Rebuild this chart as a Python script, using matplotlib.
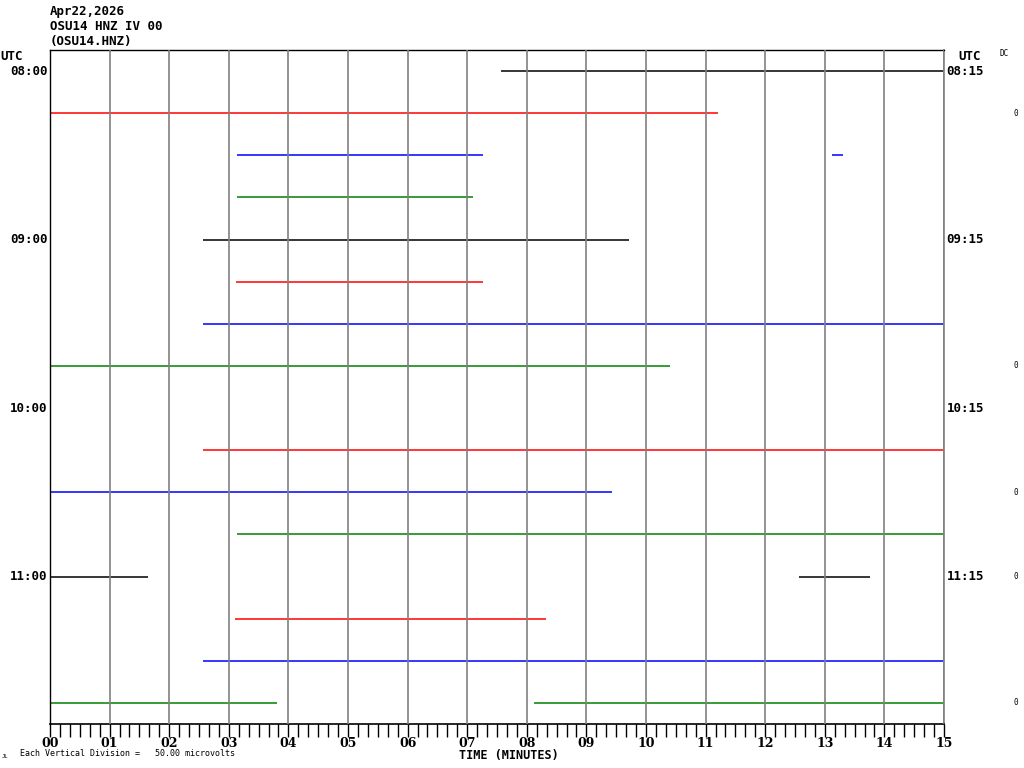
import numpy as np
import matplotlib.pyplot as plt

# helicorder: 16 rows of 15 minutes, 08:00 - 12:00 UTC
row_colors = ['black', 'red', 'blue', 'green']
left_labels = ['08:00', '09:00', '10:00', '11:00']
right_labels = ['08:15', '09:15', '10:15', '11:15']
label_rows = [0, 4, 8, 12]
zero_rows = [1, 7, 10, 12, 15]

# trace segments (row, start minute, end minute)
seg_rows = [0, 1, 2, 2, 3, 4, 5, 6, 7, 9, 10, 11, 12, 12, 13, 14, 15, 15]
seg_start = [7.57, 0.0, 3.14, 13.12, 3.14, 2.57, 3.12, 2.57, 0.0, 2.57, 0.0, 3.14,
             0.0, 12.57, 3.10, 2.57, 0.0, 8.12]
seg_end = [15.0, 11.21, 7.27, 13.31, 7.10, 9.71, 7.27, 15.0, 10.40, 15.0, 9.43, 15.0,
           1.64, 13.76, 8.32, 15.0, 3.81, 15.0]

mono = 'DejaVu Sans Mono'

fig = plt.figure(figsize=(10.24, 7.68), dpi=100)
ax = fig.add_axes([50 / 1024, 44 / 768, 894 / 1024, 674 / 768])

for r, s, e in zip(seg_rows, seg_start, seg_end):
    ax.plot([s, e], [r, r], color=row_colors[r % 4], lw=1.1, solid_capstyle='butt', zorder=2)

for m in range(1, 16):
    ax.axvline(m, color='#808080', lw=1.2, zorder=3)

ax.set_xlim(0, 15)
ax.set_ylim(15.5, -0.5)
ax.set_yticks([])
ax.set_xticks(range(16))
ax.set_xticks(np.arange(0, 15.01, 1 / 6), minor=True)
ax.set_xticklabels(['%02d' % m for m in range(16)], fontsize=9, fontweight='bold',
                   family='DejaVu Serif')
ax.tick_params(axis='x', which='both', direction='out', length=9, width=1, pad=0.5)
ax.spines['right'].set_color('#808080')
ax.spines['right'].set_linewidth(1.2)
ax.spines['bottom'].set_linewidth(1.2)
ax.spines['top'].set_linewidth(1)
ax.spines['left'].set_linewidth(1)

fig.text(509 / 1024, 1 - 755 / 768, 'TIME (MINUTES)', family=mono, fontsize=8.5,
         fontweight='bold', ha='center', va='center')

for r, lab, rlab in zip(label_rows, left_labels, right_labels):
    ax.text(-0.003, r, lab, transform=ax.get_yaxis_transform(), ha='right', va='center',
            family=mono, fontsize=9, fontweight='bold')
    ax.text(1.003, r, rlab, transform=ax.get_yaxis_transform(), ha='left', va='center',
            family=mono, fontsize=9, fontweight='bold')

for r in zero_rows:
    ax.text(1.08, r, '0', transform=ax.get_yaxis_transform(), ha='center', va='center',
            family=mono, fontsize=5.5)

fig.text(0 / 1024, 1 - 56 / 768, 'UTC', family=mono, fontsize=9, fontweight='bold', va='center')
fig.text(958 / 1024, 1 - 56 / 768, 'UTC', family=mono, fontsize=9, fontweight='bold', va='center')
fig.text(1000 / 1024, 1 - 53 / 768, 'DC', family=mono, fontsize=5.5, va='center')

header = ['Apr22,2026', 'OSU14 HNZ IV 00', '(OSU14.HNZ)']
for i, h in enumerate(header):
    fig.text(50 / 1024, 1 - (12 + 14.5 * i) / 768, h, family=mono, fontsize=9,
             fontweight='bold', va='center')

fig.text(20 / 1024, 1 - 754 / 768, 'Each Vertical Division =   50.00 microvolts',
         family=mono, fontsize=6, va='center')
fig.text(2 / 1024, 1 - 756 / 768, 'JL', family=mono, fontsize=4, va='center')

fig.savefig('out.png', dpi=100)
